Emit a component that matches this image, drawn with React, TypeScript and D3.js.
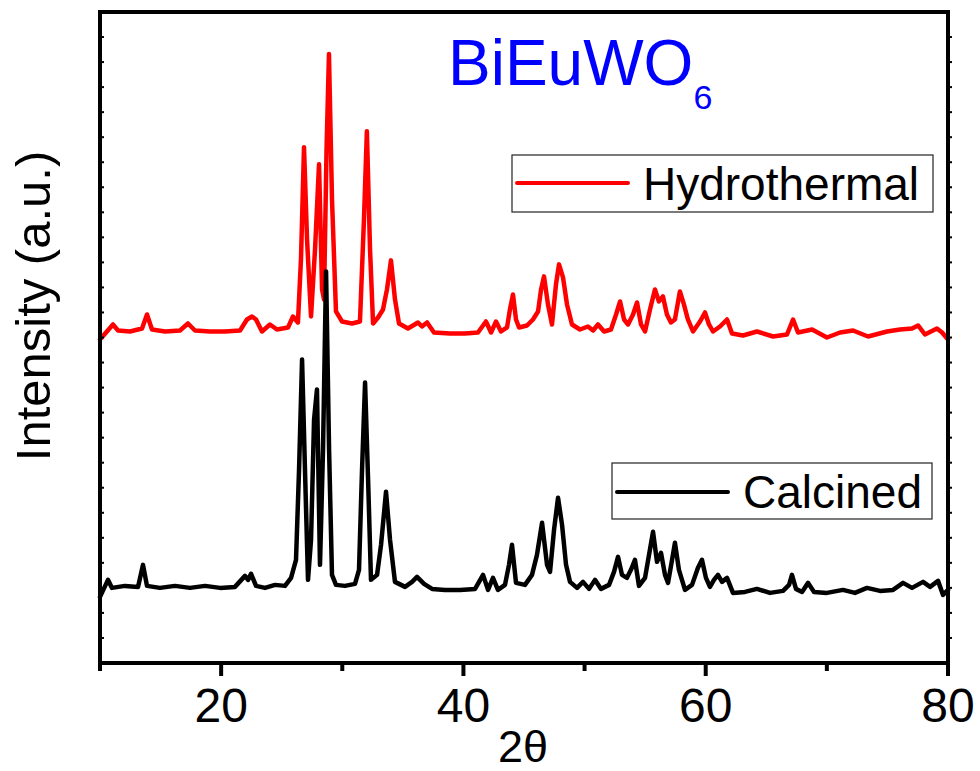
import React, { useEffect, useRef } from "react";
import * as d3 from "d3";

// 2theta positions and counts
const calcinedTheta = [
  10.0, 10.66, 10.99, 12.06, 13.14, 13.55, 13.88, 14.95, 16.19, 17.43, 18.67, 19.91, 21.14, 21.97, 22.22, 22.47,
  22.88, 23.62, 24.45, 25.27, 25.77, 26.18, 26.43, 26.68, 26.92, 27.17, 27.42, 27.67, 27.91, 28.16, 28.41, 28.66,
  28.91, 29.15, 29.48, 30.22, 31.05, 31.38, 31.63, 31.88, 32.13, 32.37, 32.87, 33.2, 33.61, 33.94, 34.35, 35.18,
  35.76, 36.17, 36.75, 37.41, 38.48, 39.72, 40.96, 41.62, 42.03, 42.44, 42.85, 43.43, 43.76, 44.01, 44.34, 45.08,
  45.66, 46.07, 46.49, 46.9, 47.15, 47.48, 47.81, 48.14, 48.47, 48.8, 49.38, 49.87, 50.37, 50.86, 51.36, 52.02,
  52.43, 52.76, 53.09, 53.5, 53.83, 54.16, 54.49, 54.99, 55.32, 55.65, 55.98, 56.31, 56.64, 56.89, 57.22, 57.46,
  57.79, 58.29, 58.87, 59.36, 59.69, 60.02, 60.35, 60.68, 61.01, 61.35, 61.76, 62.25, 63.24, 64.23, 65.31, 66.38,
  66.88, 67.12, 67.45, 67.95, 68.45, 68.94, 70.01, 71.33, 72.32, 73.31, 74.39, 75.46, 76.29, 77.03, 77.94, 78.52,
  79.18, 79.59, 80.0,
];
const calcinedCounts = [
  132, 166, 150, 154, 152, 196, 154, 150, 154, 150, 154, 150, 152, 174, 166, 178,
  154, 150, 156, 154, 170, 206, 386, 606, 386, 166, 246, 486, 546, 196, 426, 782,
  426, 176, 156, 154, 158, 186, 386, 560, 366, 166, 176, 236, 342, 246, 162, 152,
  162, 172, 158, 148, 146, 146, 148, 176, 146, 170, 146, 156, 196, 236, 160, 156,
  176, 216, 280, 196, 182, 266, 330, 276, 196, 162, 150, 162, 148, 166, 148, 156,
  182, 212, 176, 170, 186, 206, 154, 170, 216, 262, 202, 220, 176, 160, 206, 240,
  186, 146, 156, 190, 206, 170, 152, 166, 176, 162, 170, 140, 142, 148, 140, 144,
  156, 176, 148, 142, 160, 142, 140, 146, 140, 150, 144, 146, 160, 150, 162, 152,
  164, 136, 146,
];

const hydroTheta = [
  10.0, 10.5, 11.07, 11.49, 12.48, 13.47, 13.88, 14.29, 15.37, 16.6, 17.26, 17.84, 19.08, 20.32, 21.56, 22.13,
  22.55, 22.88, 23.37, 24.03, 24.61, 25.52, 25.93, 26.34, 26.59, 26.84, 27.09, 27.42, 27.75, 28.08, 28.33, 28.49,
  28.7, 28.9, 29.15, 29.48, 29.98, 30.8, 31.46, 31.79, 32.03, 32.29, 32.54, 32.95, 33.36, 33.69, 34.02, 34.35,
  34.68, 35.42, 36.25, 36.58, 37.0, 37.57, 38.89, 40.13, 41.2, 41.86, 42.28, 42.69, 43.1, 43.6, 43.84, 44.09,
  44.34, 44.59, 45.25, 45.74, 46.16, 46.41, 46.65, 46.98, 47.31, 47.64, 47.89, 48.22, 48.55, 48.96, 49.62, 50.28,
  50.7, 51.11, 51.61, 52.18, 52.6, 52.93, 53.26, 53.59, 54.0, 54.33, 54.66, 54.99, 55.4, 55.81, 56.14, 56.47,
  56.8, 57.13, 57.46, 57.87, 58.2, 58.53, 58.95, 59.53, 59.94, 60.27, 60.6, 61.18, 61.76, 62.17, 63.08, 64.23,
  65.56, 66.71, 67.21, 67.62, 68.78, 70.01, 71.09, 72.16, 73.4, 74.97, 76.04, 77.03, 77.53, 78.1, 79.09, 79.51,
  80.0,
];
const hydroCounts = [
  146, 160, 176, 164, 162, 168, 196, 166, 162, 164, 178, 164, 162, 162, 164, 186,
  192, 186, 162, 176, 166, 170, 192, 180, 306, 530, 346, 192, 326, 496, 246, 226,
  526, 716, 426, 202, 182, 178, 182, 386, 562, 326, 178, 190, 206, 246, 304, 226,
  178, 168, 180, 172, 180, 160, 158, 158, 160, 182, 160, 182, 162, 170, 206, 236,
  186, 170, 174, 186, 202, 246, 272, 216, 176, 256, 296, 270, 216, 176, 166, 172,
  164, 176, 162, 166, 196, 222, 186, 176, 196, 220, 176, 162, 206, 246, 222, 232,
  196, 180, 186, 242, 216, 186, 162, 182, 200, 176, 162, 172, 186, 158, 154, 162,
  152, 156, 186, 160, 166, 150, 160, 164, 152, 162, 166, 168, 174, 156, 168, 160,
  146,
];
const hydroOffset = 500;

const seriesNames = ["Hydrothermal", "Calcined"];
const seriesColors = ["#ff0000", "#000000"];

const xMajorTicks = [20, 40, 60, 80];
const xMinorTicks = [10, 30, 50, 70];

const App = () => {
  const svgRef = useRef(null);

  useEffect(() => {
    const width = 980;
    const height = 771;
    const left = 100, right = 948, top = 12, bottom = 663;
    const font = "Arial, 'Liberation Sans', sans-serif";

    const svg = d3.select(svgRef.current).attr("width", width).attr("height", height);
    svg.selectAll("*").remove();

    const x = d3.scaleLinear().domain([10, 80]).range([left, right]);
    const y = d3.scaleLinear().domain([0, 1300]).range([bottom, top]);

    const line = d3
      .line()
      .x((d) => x(d[0]))
      .y((d) => y(d[1]));

    const calcined = calcinedTheta.map((t, i) => [t, calcinedCounts[i]]);
    const hydro = hydroTheta.map((t, i) => [t, hydroCounts[i] + hydroOffset]);

    // curves
    [hydro, calcined].forEach((data, i) => {
      svg
        .append("path")
        .attr("d", line(data))
        .attr("fill", "none")
        .attr("stroke", seriesColors[i])
        .attr("stroke-width", 4.5)
        .attr("stroke-linejoin", "round")
        .attr("stroke-linecap", "round");
    });

    // y minor ticks (small, no labels)
    const yTicks = d3.range(50, 1300, 50);
    svg
      .selectAll(".ytl")
      .data(yTicks)
      .enter()
      .append("line")
      .attr("x1", left)
      .attr("x2", left + 4)
      .attr("y1", (d) => y(d))
      .attr("y2", (d) => y(d))
      .attr("stroke", "#000")
      .attr("stroke-width", 2);
    svg
      .selectAll(".ytr")
      .data(yTicks)
      .enter()
      .append("line")
      .attr("x1", right)
      .attr("x2", right + 4)
      .attr("y1", (d) => y(d))
      .attr("y2", (d) => y(d))
      .attr("stroke", "#000")
      .attr("stroke-width", 2);

    // x ticks
    svg
      .selectAll(".xmaj")
      .data(xMajorTicks)
      .enter()
      .append("line")
      .attr("x1", (d) => x(d))
      .attr("x2", (d) => x(d))
      .attr("y1", bottom)
      .attr("y2", bottom + 13)
      .attr("stroke", "#000")
      .attr("stroke-width", 4);
    svg
      .selectAll(".xmin")
      .data(xMinorTicks)
      .enter()
      .append("line")
      .attr("x1", (d) => x(d))
      .attr("x2", (d) => x(d))
      .attr("y1", bottom)
      .attr("y2", bottom + 8)
      .attr("stroke", "#000")
      .attr("stroke-width", 4);

    svg
      .selectAll(".xlab")
      .data(xMajorTicks)
      .enter()
      .append("text")
      .attr("x", (d) => x(d))
      .attr("y", 722)
      .attr("text-anchor", "middle")
      .style("font-family", font)
      .style("font-size", "48px")
      .text((d) => d);

    // frame
    svg
      .append("rect")
      .attr("x", left)
      .attr("y", top)
      .attr("width", right - left)
      .attr("height", bottom - top)
      .attr("fill", "none")
      .attr("stroke", "#000")
      .attr("stroke-width", 4);

    // axis titles
    svg
      .append("text")
      .attr("x", 523)
      .attr("y", 762)
      .attr("text-anchor", "middle")
      .style("font-family", font)
      .style("font-size", "45px")
      .text("2θ");

    svg
      .append("text")
      .attr("transform", "translate(50,306) rotate(-90)")
      .attr("text-anchor", "middle")
      .style("font-family", font)
      .style("font-size", "49px")
      .text("Intensity (a.u.)");

    // title
    const title = svg
      .append("text")
      .attr("x", 448)
      .attr("y", 85)
      .attr("fill", "#0000ff")
      .style("font-family", font)
      .style("font-size", "64px");
    title.append("tspan").text("BiEuWO");
    title.append("tspan").attr("dy", 24).style("font-size", "34px").text("6");

    // legends
    const legends = [
      { box: [512, 155, 421, 57], ly: 183, tx: 643, ty: 200 },
      { box: [612, 463, 320, 56], ly: 492, tx: 743, ty: 508 },
    ];
    legends.forEach((l, i) => {
      const g = svg.append("g");
      g.append("rect")
        .attr("x", l.box[0])
        .attr("y", l.box[1])
        .attr("width", l.box[2])
        .attr("height", l.box[3])
        .attr("fill", "#fff")
        .attr("stroke", "#222")
        .attr("stroke-width", 1.2);
      g.append("line")
        .attr("x1", l.box[0] + 5)
        .attr("x2", l.box[0] + 116)
        .attr("y1", l.ly)
        .attr("y2", l.ly)
        .attr("stroke", seriesColors[i])
        .attr("stroke-width", 4)
        .attr("stroke-linecap", "round");
      g.append("text")
        .attr("x", l.tx)
        .attr("y", l.ty)
        .style("font-family", font)
        .style("font-size", "46px")
        .text(seriesNames[i]);
    });
  }, []);

  return <svg ref={svgRef} style={{ position: "absolute", left: 0, top: 0 }}></svg>;
};

export default App;
